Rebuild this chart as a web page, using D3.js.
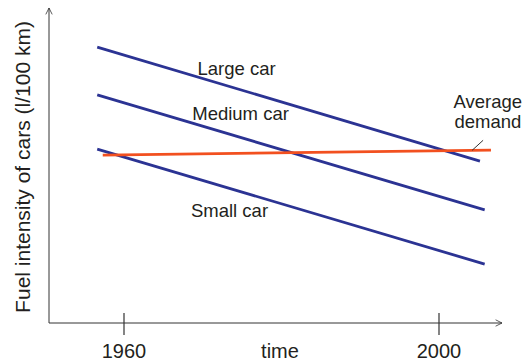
<!DOCTYPE html>
<html lang="en">
<head>
  <meta charset="UTF-8">
  <title>Fuel intensity of cars</title>
  <script src="https://d3js.org/d3.v7.min.js"></script>
  <style>
    body { margin: 0; background: #fff; }
    text { font-family: "Liberation Sans", Arial, sans-serif; fill: #231f20; }
  </style>
</head>
<body>
  <div id="chart"></div>

  <script>
    // data (years, fuel intensity in arbitrary units)
    const largeCar = [
      { year: 1956.6, value: 8.76 },
      { year: 2005.2, value: 5.14 }
    ];
    const mediumCar = [
      { year: 1956.6, value: 7.24 },
      { year: 2005.8, value: 3.59 }
    ];
    const smallCar = [
      { year: 1956.6, value: 5.52 },
      { year: 2005.8, value: 1.87 }
    ];
    const avgDemand = [
      { year: 1957.3, value: 5.33 },
      { year: 2006.6, value: 5.49 }
    ];
    const tickYears = [1960, 2000];
    const tickLabels = ["1960", "2000"];

    const width = 525, height = 361;
    const svg = d3.select("#chart").append("svg")
      .attr("width", width)
      .attr("height", height);

    // scales
    const x = d3.scaleLinear().domain([1960, 2000]).range([124, 439]);
    const y = d3.scaleLinear().domain([0, 10]).range([323, 8]);

    const line = d3.line()
      .x(d => x(d.year))
      .y(d => y(d.value));

    // axes
    svg.append("defs").append("marker")
      .attr("id", "arrow")
      .attr("viewBox", "0 0 10 10")
      .attr("refX", 9).attr("refY", 5)
      .attr("markerWidth", 8).attr("markerHeight", 8)
      .attr("orient", "auto")
      .append("path")
      .attr("d", "M1,1 L9,5 L1,9")
      .attr("fill", "none")
      .attr("stroke", "#333")
      .attr("stroke-width", 1);

    const x0 = x.invert(49);
    svg.append("line")
      .attr("x1", x(x0)).attr("y1", y(0))
      .attr("x2", x(x0)).attr("y2", y(10))
      .attr("stroke", "#333").attr("stroke-width", 1)
      .attr("marker-end", "url(#arrow)");

    svg.append("line")
      .attr("x1", x(x0)).attr("y1", y(0))
      .attr("x2", x(x.invert(502))).attr("y2", y(0))
      .attr("stroke", "#333").attr("stroke-width", 1)
      .attr("marker-end", "url(#arrow)");

    const ticks = svg.append("g");
    ticks.selectAll("line")
      .data(tickYears)
      .enter().append("line")
      .attr("x1", d => x(d)).attr("x2", d => x(d))
      .attr("y1", y(0) - 10).attr("y2", y(0) + 12)
      .attr("stroke", "#333").attr("stroke-width", 1.2);

    ticks.selectAll("text")
      .data(tickYears)
      .enter().append("text")
      .attr("x", d => x(d))
      .attr("y", 358)
      .attr("text-anchor", "middle")
      .attr("font-size", 20)
      .text((d, i) => tickLabels[i]);

    svg.append("text")
      .attr("x", 280).attr("y", 358)
      .attr("text-anchor", "middle")
      .attr("font-size", 20)
      .text("time");

    svg.append("text")
      .attr("transform", "translate(30,167) rotate(-90)")
      .attr("text-anchor", "middle")
      .attr("font-size", 21)
      .text("Fuel intensity of cars (l/100 km)");

    // lines
    [largeCar, mediumCar, smallCar].forEach(s => {
      svg.append("path")
        .attr("d", line(s))
        .attr("fill", "none")
        .attr("stroke", "#2b3393")
        .attr("stroke-width", 2.8);
    });

    svg.append("path")
      .attr("d", line(avgDemand))
      .attr("fill", "none")
      .attr("stroke", "#f2501f")
      .attr("stroke-width", 2.8);

    // labels
    const labels = [
      { text: "Large car", year: 1974.3, value: 7.87 },
      { text: "Medium car", year: 1974.8, value: 6.44 },
      { text: "Small car", year: 1973.4, value: 3.37 },
      { text: "Average", year: 2006.2, value: 6.83 },
      { text: "demand", year: 2006.2, value: 6.2 }
    ];
    svg.selectAll(".lbl")
      .data(labels)
      .enter().append("text")
      .attr("class", "lbl")
      .attr("x", d => x(d.year))
      .attr("y", d => y(d.value))
      .attr("text-anchor", "middle")
      .attr("font-size", 18.5)
      .text(d => d.text);

    // leader line for "Average demand"
    svg.append("line")
      .attr("x1", x(2004.2)).attr("y1", y(5.48))
      .attr("x2", x(2005.6)).attr("y2", y(5.8))
      .attr("stroke", "#333").attr("stroke-width", 1);
  </script>
</body>
</html>
